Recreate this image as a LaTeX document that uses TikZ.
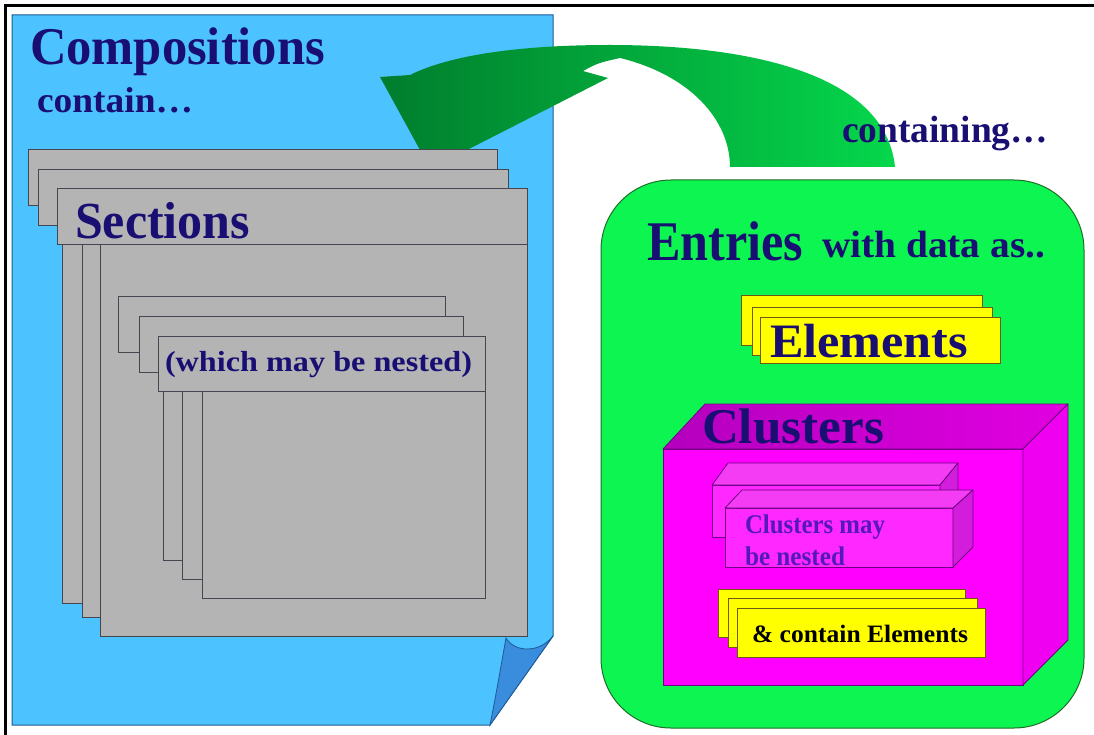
\documentclass[tikz,border=0pt]{standalone}
\usepackage{fontspec}
\setmainfont{Liberation Serif}
\usepackage{graphicx}

\definecolor{pageblue}{RGB}{76,194,255}
\definecolor{pageedge}{RGB}{30,90,150}
\definecolor{curlblue}{RGB}{58,140,220}
\definecolor{secgray}{RGB}{180,180,180}
\definecolor{secedge}{RGB}{70,70,80}
\definecolor{navy}{RGB}{25,15,115}
\definecolor{boxgreen}{RGB}{12,245,80}
\definecolor{boxedge}{RGB}{30,110,40}
\definecolor{arrowdark}{RGB}{0,125,45}
\definecolor{arrowlight}{RGB}{5,215,75}
\definecolor{elyellow}{RGB}{255,255,0}
\definecolor{eledge}{RGB}{110,90,20}
\definecolor{clmag}{RGB}{255,0,255}
\definecolor{cltopdark}{RGB}{180,0,190}
\definecolor{cltoplight}{RGB}{225,0,225}
\definecolor{clside}{RGB}{240,0,240}
\definecolor{cledge}{RGB}{110,0,130}
\definecolor{nestface}{RGB}{255,40,255}
\definecolor{nesttop}{RGB}{245,60,245}
\definecolor{nestside}{RGB}{210,30,220}
\definecolor{nesttext}{RGB}{85,25,185}

% bold text at a given size, stretched or squeezed to a given width
\newcommand\fitw[3]{\resizebox{#1pt}{\height}{\fontsize{#2}{#2}\selectfont\bfseries #3}}

\tikzset{
  lbl/.style={anchor=base west, inner sep=0pt, outer sep=0pt, text=navy},
  secbox/.style={fill=secgray, draw=secedge, line width=1pt},
  ylwbox/.style={fill=elyellow, draw=eledge, line width=1pt},
  cubeline/.style={draw=cledge, line width=0.8pt, line join=round},
}

% one section sheet: header bar and indented body
% #1 header left, #2 body left, #3 right, #4 top, #5 header bottom, #6 bottom
\newcommand\sheet[6]{%
  \draw[secbox] (#2,#5) rectangle (#3,#6);
  \draw[secbox] (#1,#4) rectangle (#3,#5);
}

\begin{document}
\begin{tikzpicture}[x=1pt,y=-1pt]
\useasboundingbox (0,0) rectangle (1094,735);
\fill[white] (0,0) rectangle (1094,735);

% frame lines
\draw[line width=3.5pt] (5.5,735) -- (5.5,5.5) -- (1094,5.5);

% composition page with curled corner
\filldraw[fill=pageblue, draw=pageedge, line width=1pt]
  (12,15) -- (553,15) -- (553,636) -- (490,725) -- (12,725) -- cycle;
\filldraw[fill=curlblue, draw=pageedge, line width=0.8pt]
  (490,725) .. controls (497,690) and (502,660) .. (506,638)
  .. controls (515,653) and (540,653) .. (553,636) -- cycle;

% entries container
\draw[fill=boxgreen, draw=boxedge, line width=1pt, rounded corners=70pt]
  (601,180) rectangle (1084,728);

% curved arrow from entries back to the composition
\path[left color=arrowdark, right color=arrowlight]
  (895,167) .. controls (885,70) and (740,45) .. (610,45)
  .. controls (520,45) and (450,55) .. (410,75)
  -- (380,77) -- (420,150) -- (467,150) -- (608,78) -- (583,71)
  .. controls (598,63) .. (620,58)
  .. controls (690,75) and (730,120) .. (730,167) -- cycle;

% sections
\sheet{28}{62}{497}{150}{206}{603}
\sheet{38}{82}{508}{170}{226}{617}
\sheet{57}{100}{527}{189}{245}{636}

% nested sections
\sheet{118}{163}{445}{296}{352}{560}
\sheet{139}{182}{463}{316}{372}{579}
\sheet{158}{202}{485}{336}{391}{598}

% elements stack
\draw[ylwbox] (741,295) rectangle (982,345);
\draw[ylwbox] (752,307) rectangle (992,355);
\draw[ylwbox] (760,317) rectangle (1000,363);

% cluster cuboid
\draw[cubeline, fill=clmag] (663,449) rectangle (1023,685);
\draw[cubeline, left color=cltopdark, right color=cltoplight]
  (663,449) -- (705,404) -- (1068,404) -- (1023,449) -- cycle;
\draw[cubeline, fill=clside] (1023,449) -- (1068,404) -- (1068,640) -- (1023,685) -- cycle;

% nested cluster cuboids
\draw[cubeline, fill=nestface] (712,485) rectangle (940,537);
\draw[cubeline, fill=nesttop] (712,485) -- (728,463) -- (958,463) -- (940,485) -- cycle;
\draw[cubeline, fill=nestside] (940,485) -- (958,463) -- (958,515) -- (940,537) -- cycle;

\draw[cubeline, fill=nestface] (725,508) rectangle (953,567);
\draw[cubeline, fill=nesttop] (725,508) -- (742,490) -- (973,490) -- (953,508) -- cycle;
\draw[cubeline, fill=nestside] (953,508) -- (973,490) -- (973,547) -- (953,567) -- cycle;

% element stack inside clusters
\draw[ylwbox] (718,589) rectangle (965,637);
\draw[ylwbox] (728,598) rectangle (977,647);
\draw[ylwbox] (737,608) rectangle (985,657);

% labels
\node[lbl] (compositions) at (30,65)  {\fitw{295}{53}{Compositions}};
\node[lbl] (contain)      at (37,113) {\fitw{156}{36}{contain\ldots}};
\node[lbl] (sections)     at (75,238) {\fitw{175}{52}{Sections}};
\node[lbl] (nested)       at (165,371) {\fitw{307}{29}{(which may be nested)}};
\node[lbl] (containing)   at (842,143) {\fitw{206}{38}{containing\ldots}};
\node[lbl] (entries)      at (647,260) {\fitw{156}{56}{Entries}};
\node[lbl] (withdata)     at (822,258) {\fitw{223}{38}{with data as..}};
\node[lbl] (elements)     at (770,357) {\fitw{198}{48}{Elements}};
\node[lbl] (clusters)     at (702,443) {\fitw{182}{50}{Clusters}};
\node[lbl, text=nesttext] (maynest) at (745,533) {\fitw{140}{27}{Clusters may}};
\node[lbl, text=nesttext] (benest)  at (745,565) {\fitw{100}{27}{be nested}};
\node[lbl, text=black] (containel) at (752,642) {\fitw{216}{25}{\& contain Elements}};

\end{tikzpicture}
\end{document}
